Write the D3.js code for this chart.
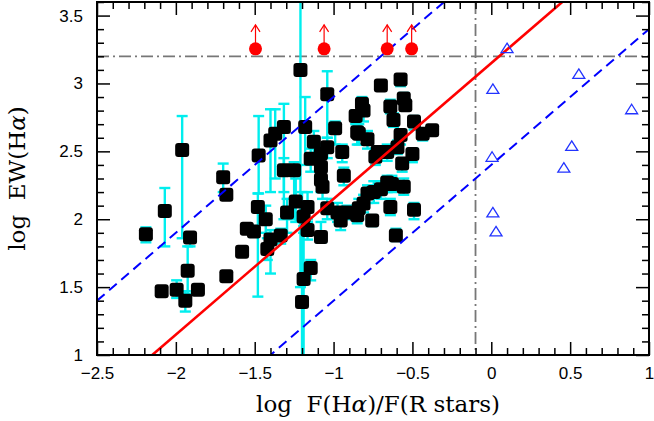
<!DOCTYPE html>
<html>
<head>
    <script src="https://d3js.org/d3.v7.min.js"></script>
    <style>
        body { margin: 0; background: white; }
        svg { display: block; }
        .tick text { font-family: "Liberation Sans", Arial, sans-serif; font-size: 17px; fill: black; }
        .title { font-family: "DejaVu Serif", serif; font-size: 23px; fill: black; white-space: pre; }
    </style>
</head>
<body>
    <svg width="654" height="421"></svg>
    <script>
        // detections: log F(Ha)/F(R stars), log EW(Ha) and its error range
        const logF = [-2.19, -2.07, -1.96, -1.91, -1.925, -1.94, -2.09, -1.995, -1.86, -1.70,
            -1.68, -1.58, -1.68, -1.475, -1.48, -1.55, -1.505, -1.43, -1.42, -1.40,
            -1.37, -1.315, -1.40, -1.335, -1.315, -1.25, -1.295, -1.24, -1.21, -1.20,
            -1.19, -1.18, -1.165, -1.19, -1.165, -1.145, -1.125, -1.145, -1.08, -1.04,
            -1.08, -1.08, -1.07, -1.08, -1.04, -0.975, -0.955, -0.915, -1.04, -0.99,
            -0.945, -0.935, -0.86, -0.82, -0.81, -0.84, -0.785, -0.85, -0.84, -0.85,
            -0.755, -0.81, -0.785, -0.745, -0.70, -0.63, -0.66, -0.64, -0.49, -0.605,
            -0.555, -0.70, -0.575, -0.64, -0.555, -0.545, -0.62, -0.49, -0.435, -0.375,
            -0.575, -0.595, -0.66, -0.735, -0.72, -0.50, -0.565];
        const logEW = [1.89, 2.06, 2.51, 1.865, 1.62, 1.40, 1.47, 1.48, 1.48, 2.31,
            2.18, 1.76, 1.58, 2.47, 2.09, 1.93, 1.91, 2.00, 1.78, 2.58,
            2.63, 2.68, 1.85, 1.88, 2.36, 2.36, 2.05, 2.13, 3.10, 1.39,
            1.56, 2.68, 2.09, 2.02, 1.92, 1.64, 2.57, 2.445, 2.485, 2.53,
            2.385, 2.29, 2.24, 1.87, 2.08, 2.05, 1.99, 2.05, 2.92, 2.67,
            2.495, 2.32, 2.76, 2.85, 2.80, 2.63, 2.59, 2.64, 2.08, 2.03,
            1.99, 2.115, 2.19, 2.20, 2.22, 2.26, 2.27, 2.09, 2.07, 1.88,
            2.24, 2.985, 3.03, 2.83, 2.89, 2.84, 2.73, 2.72, 2.63, 2.655,
            2.62, 2.53, 2.495, 2.46, 2.495, 2.48, 2.41];
        const ewLo = [1.83, 1.80, 1.86, 1.80, 1.45, 1.32, 1.45, 1.42, 1.45, 2.20,
            2.15, 1.74, 1.56, 2.19, 1.43, 1.90, 1.87, 1.90, 1.70, 2.20,
            2.30, 2.20, 1.60, 1.82, 2.00, 2.00, 1.90, 1.98, 1.50, 0.90,
            0.90, 2.40, 2.00, 1.95, 1.85, 1.55, 2.45, 2.35, 2.40, 2.45,
            2.30, 2.20, 2.15, 1.83, 2.00, 1.98, 1.92, 2.00, 2.60, 2.55,
            2.42, 2.25, 2.70, 2.78, 2.72, 2.55, 2.52, 2.55, 2.00, 1.97,
            1.95, 2.05, 2.12, 2.12, 2.15, 2.20, 2.20, 2.03, 2.00, 1.84,
            2.18, 2.95, 2.98, 2.78, 2.85, 2.80, 2.68, 2.66, 2.58, 2.62,
            2.55, 2.48, 2.43, 2.40, 2.45, 2.42, 2.35];
        const ewHi = [1.94, 2.23, 2.76, 1.90, 1.80, 1.47, 1.49, 1.55, 1.50, 2.41,
            2.22, 1.78, 1.60, 2.76, 2.19, 1.96, 1.95, 2.10, 1.86, 2.81,
            2.81, 2.85, 1.92, 1.93, 2.45, 2.42, 2.15, 2.30, 3.75, 2.20,
            1.90, 2.90, 2.20, 2.10, 1.98, 1.70, 2.65, 2.52, 2.55, 2.60,
            2.45, 2.35, 2.30, 1.98, 2.15, 2.12, 2.05, 2.10, 3.09, 2.72,
            2.55, 2.38, 2.80, 2.90, 2.85, 2.70, 2.65, 2.68, 2.15, 2.08,
            2.03, 2.18, 2.25, 2.28, 2.28, 2.32, 2.32, 2.15, 2.12, 1.93,
            2.30, 3.02, 3.06, 2.88, 2.93, 2.88, 2.78, 2.76, 2.67, 2.68,
            2.66, 2.58, 2.55, 2.52, 2.52, 2.52, 2.45];

        // lower limits on EW (red points with arrows)
        const limF = [-1.495, -1.06, -0.66, -0.505];
        const limEW = [3.255, 3.255, 3.255, 3.255];

        // open triangles
        const triF = [0.10, 0.555, 0.01, 0.89, 0.51, 0.005, 0.46, 0.01, 0.03];
        const triEW = [3.26, 3.07, 2.96, 2.81, 2.54, 2.46, 2.38, 2.05, 1.91];

        // relations log EW = log F + c
        const fitOffset = 3.15;
        const bandOffsets = [3.9, 2.4];
        const cutF = -0.1, cutEW = 3.2;

        const xTicks = [-2.5, -2, -1.5, -1, -0.5, 0, 0.5, 1];
        const yTicks = [1, 1.5, 2, 2.5, 3, 3.5];

        const svg = d3.select("svg");
        const margin = { top: 2, right: 5, bottom: 66, left: 97 };
        const width = 654 - margin.left - margin.right;
        const height = 421 - margin.top - margin.bottom;
        const g = svg.append("g").attr("transform", `translate(${margin.left},${margin.top})`);

        const x = d3.scaleLinear().domain([-2.5, 1]).range([0, width]);
        const y = d3.scaleLinear().domain([1, 3.6]).range([height, 0]);

        g.append("clipPath").attr("id", "clip")
            .append("rect").attr("width", width).attr("height", height);
        const plot = g.append("g").attr("clip-path", "url(#clip)");

        // minor ticks every 0.1
        const xMinor = d3.range(-25, 11).map(d => d / 10).filter(d => !xTicks.includes(d));
        const yMinor = d3.range(10, 37).map(d => d / 10).filter(d => !yTicks.some(t => Math.abs(t - d) < 1e-9));
        const fmt = d3.format("~g");

        function axis(gen, scale, vals, size, labels, pad, tr) {
            const a = gen(scale).tickValues(vals).tickSize(size).tickPadding(pad)
                .tickFormat(labels ? fmt : "");
            const sel = g.append("g").attr("transform", tr).call(a);
            sel.select(".domain").remove();
            sel.selectAll("line").attr("stroke", "black").attr("stroke-width", 1.5);
            return sel;
        }
        axis(d3.axisBottom, x, xTicks, -13, true, 12, `translate(0,${height})`);
        axis(d3.axisBottom, x, xMinor, -7, false, 0, `translate(0,${height})`);
        axis(d3.axisTop, x, xTicks, -13, false, 0, "translate(0,0)");
        axis(d3.axisTop, x, xMinor, -7, false, 0, "translate(0,0)");
        axis(d3.axisLeft, y, yTicks, -13, true, 14, "translate(0,0)");
        axis(d3.axisLeft, y, yMinor, -7, false, 0, "translate(0,0)");
        axis(d3.axisRight, y, yTicks, -13, false, 0, `translate(${width},0)`);
        axis(d3.axisRight, y, yMinor, -7, false, 0, `translate(${width},0)`);

        // dash-dot cut lines
        plot.append("line")
            .attr("x1", x(cutF)).attr("x2", x(cutF)).attr("y1", 0).attr("y2", height)
            .attr("stroke", "#777").attr("stroke-width", 1.8).attr("stroke-dasharray", "12,4,2,4");
        plot.append("line")
            .attr("x1", 0).attr("x2", width).attr("y1", y(cutEW)).attr("y2", y(cutEW))
            .attr("stroke", "#777").attr("stroke-width", 1.8).attr("stroke-dasharray", "12,4,2,4");

        // error bars
        const idx = d3.range(logF.length);
        const capW = 5.5;
        const bars = plot.append("g").attr("stroke", "#0ee").attr("stroke-width", 2.4);
        bars.selectAll(".eb").data(idx).join("line")
            .attr("x1", i => x(logF[i])).attr("x2", i => x(logF[i]))
            .attr("y1", i => y(ewLo[i])).attr("y2", i => y(ewHi[i]));
        bars.selectAll(".capLo").data(idx).join("line")
            .attr("x1", i => x(logF[i]) - capW).attr("x2", i => x(logF[i]) + capW)
            .attr("y1", i => y(ewLo[i])).attr("y2", i => y(ewLo[i]));
        bars.selectAll(".capHi").data(idx).join("line")
            .attr("x1", i => x(logF[i]) - capW).attr("x2", i => x(logF[i]) + capW)
            .attr("y1", i => y(ewHi[i])).attr("y2", i => y(ewHi[i]));

        // black squares
        const s = 14;
        plot.append("g").selectAll("rect").data(idx).join("rect")
            .attr("x", i => x(logF[i]) - s / 2).attr("y", i => y(logEW[i]) - s / 2)
            .attr("width", s).attr("height", s).attr("rx", 3)
            .attr("fill", "black");

        // relations
        const [fx0, fx1] = x.domain();
        const rel = c => [[fx0, fx0 + c], [fx1, fx1 + c]];
        const lineGen = d3.line().x(d => x(d[0])).y(d => y(d[1]));
        bandOffsets.forEach(c => {
            plot.append("path").attr("d", lineGen(rel(c)))
                .attr("fill", "none").attr("stroke", "blue").attr("stroke-width", 2)
                .attr("stroke-dasharray", "10,6");
        });
        plot.append("path").attr("d", lineGen(rel(fitOffset)))
            .attr("fill", "none").attr("stroke", "red").attr("stroke-width", 2.6);

        // open triangles
        plot.append("g").selectAll("path").data(d3.range(triF.length)).join("path")
            .attr("transform", i => `translate(${x(triF[i])},${y(triEW[i])})`)
            .attr("d", "M0,-5L6,4.5L-6,4.5Z")
            .attr("fill", "none").attr("stroke", "#2233ff").attr("stroke-width", 1.3);

        // lower limits
        const lim = plot.append("g").selectAll("g").data(d3.range(limF.length)).join("g")
            .attr("transform", i => `translate(${x(limF[i])},${y(limEW[i])})`);
        lim.append("line").attr("y1", 0).attr("y2", -24)
            .attr("stroke", "red").attr("stroke-width", 1.2);
        lim.append("path").attr("d", "M-4.5,-17L0,-24L4.5,-17")
            .attr("fill", "none").attr("stroke", "red").attr("stroke-width", 1.2);
        lim.append("circle").attr("r", 6.5).attr("fill", "red");

        // frame
        g.append("rect").attr("width", width).attr("height", height)
            .attr("fill", "none").attr("stroke", "black").attr("stroke-width", 2);

        // titles
        const xt = svg.append("text").attr("class", "title")
            .attr("x", margin.left + width / 2 + 5).attr("y", 412).attr("text-anchor", "middle");
        xt.append("tspan").text("log  F(H");
        xt.append("tspan").attr("font-style", "italic").text("α");
        xt.append("tspan").text(")/F(R stars)");

        const yt = svg.append("text").attr("class", "title")
            .attr("transform", `translate(25,${margin.top + height / 2}) rotate(-90)`)
            .attr("text-anchor", "middle");
        yt.append("tspan").text("log  EW(H");
        yt.append("tspan").attr("font-style", "italic").text("α");
        yt.append("tspan").text(")");
    </script>
</body>
</html>
